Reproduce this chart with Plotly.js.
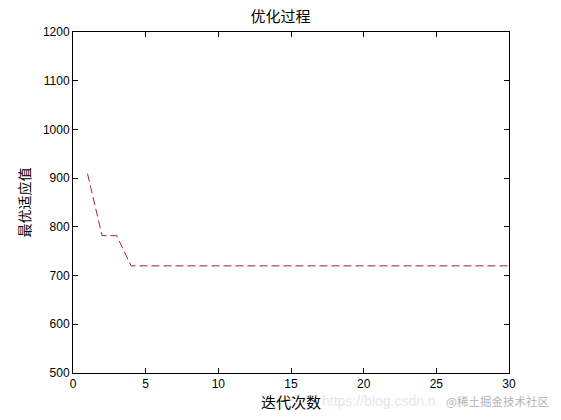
<!DOCTYPE html>
<html>
<head>
<meta charset="utf-8">
<script src="https://cdn.plot.ly/plotly-3.0.1.min.js"></script>
<style>
  html, body { margin: 0; padding: 0; background: #fff; }
  #chart { width: 561px; height: 420px; }
</style>
</head>
<body>
<div id="chart"></div>
<script>
// iteration number and best fitness value per iteration
var iterations = [];
for (var i = 1; i <= 30; i++) iterations.push(i);
var bestFitness = [909, 782, 782, 720, 720, 720, 720, 720, 720, 720,
                   720, 720, 720, 720, 720, 720, 720, 720, 720, 720,
                   720, 720, 720, 720, 720, 720, 720, 720, 720, 720];

var xTicks = [0, 5, 10, 15, 20, 25, 30];
var yTicks = [500, 600, 700, 800, 900, 1000, 1100, 1200];

var titleText = '优化过程';
var xLabel = '迭代次数';
var yLabel = '最优适应值';

var cjk = '"Noto Sans CJK SC", "Liberation Sans", sans-serif';

var trace = {
    x: iterations,
    y: bestFitness,
    type: 'scatter',
    mode: 'lines',
    line: { color: '#a8203c', width: 1, dash: '8px,4px' },
    hoverinfo: 'skip'
};

var axisBase = {
    showgrid: false,
    zeroline: false,
    showline: true,
    linecolor: '#000',
    linewidth: 1,
    mirror: 'ticks',
    ticks: 'inside',
    ticklen: 5,
    tickcolor: '#000',
    tickfont: { family: '"Liberation Sans", Arial, sans-serif', size: 12, color: '#000' }
};

var layout = {
    width: 561,
    height: 420,
    margin: { l: 73, r: 52, t: 32, b: 47 },
    paper_bgcolor: '#fff',
    plot_bgcolor: '#fff',
    showlegend: false,
    title: {
        text: titleText,
        font: { family: cjk, size: 15, color: '#000' },
        x: 0.5, xanchor: 'center', y: 0.96, yanchor: 'middle'
    },
    xaxis: Object.assign({}, axisBase, {
        range: [0, 30],
        tickvals: xTicks,
        title: { text: xLabel, font: { family: cjk, size: 15, color: '#000' }, standoff: 1 }
    }),
    yaxis: Object.assign({}, axisBase, {
        range: [500, 1200],
        tickvals: yTicks,
        title: { text: yLabel, font: { family: cjk, size: 14, color: '#000' }, standoff: 8 }
    }),
    annotations: [
        {
            text: 'https://blog.csdn.n',
            xref: 'paper', yref: 'paper', x: 0.567, y: -0.082,
            xanchor: 'left', yanchor: 'middle', showarrow: false,
            font: { family: '"Liberation Sans", sans-serif', size: 14, color: '#e6e6e6' }
        },
        {
            text: '@稀土掘金技术社区',
            xref: 'paper', yref: 'paper', x: 0.851, y: -0.082,
            xanchor: 'left', yanchor: 'middle', showarrow: false,
            font: { family: cjk, size: 11.5, color: '#b4b4b4' }
        }
    ]
};

Plotly.newPlot('chart', [trace], layout, { displayModeBar: false, staticPlot: true });
</script>
</body>
</html>
